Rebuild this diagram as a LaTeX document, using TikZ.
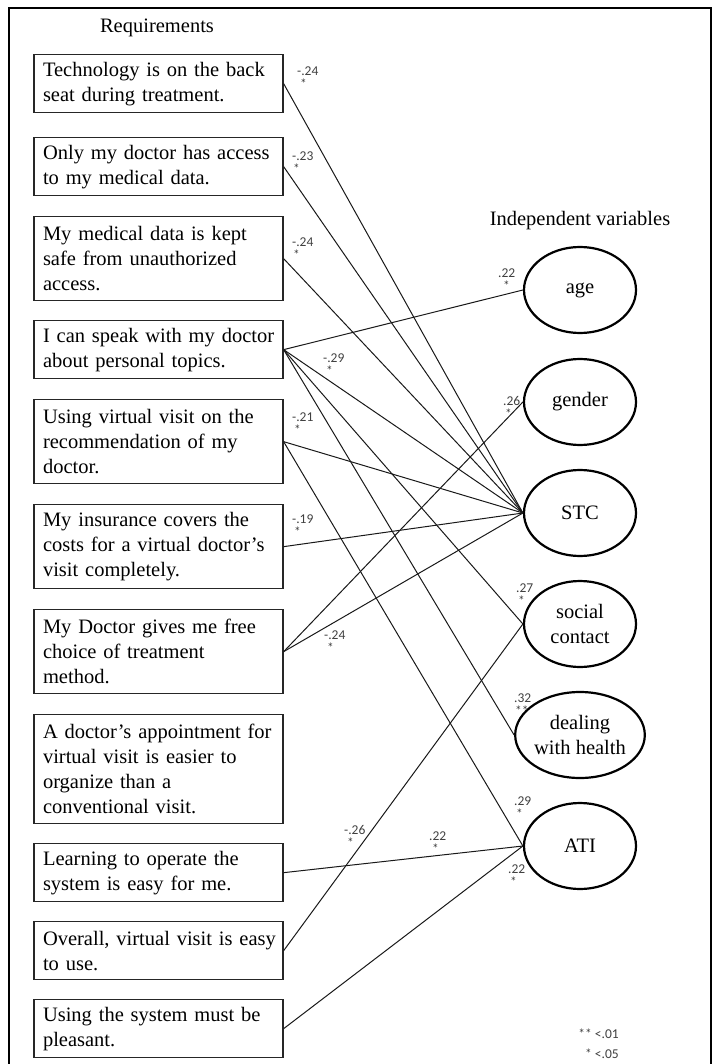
\documentclass[tikz,border=0pt]{standalone}
\usepackage{fontspec}
\setmainfont{Liberation Serif}
\newfontfamily\labfont{Carlito}
\usetikzlibrary{shapes.geometric}
\begin{document}
\begin{tikzpicture}[x=1pt,y=-1pt,
  reqbox/.style={draw=black!85, line width=1.3pt, minimum width=249pt, text width=231pt, align=left, inner xsep=9pt, inner ysep=0pt, font=\fontsize{20.5}{25}\selectfont, anchor=north},
  two/.style={reqbox, minimum height=58pt},
  three/.style={reqbox, minimum height=84pt},
  four/.style={reqbox, minimum height=109pt},
  var/.style={ellipse, draw, line width=2.2pt, minimum width=112pt, minimum height=86pt, inner sep=0pt, align=center, font=\fontsize{20.5}{25}\selectfont},
  conn/.style={line width=1pt, black!90},
  coef/.style={font=\labfont\fontsize{13.5}{13}\selectfont, text=black!75, align=left, inner sep=0pt, anchor=north west},
  heading/.style={font=\fontsize{20.5}{25}\selectfont, inner sep=0pt}
]
\useasboundingbox (0,0) rectangle (713,1064);
\draw[line width=2pt] (9,1064) -- (9,8) -- (711,8) -- (711,1064);

\node[heading] (treq) at (157,28) {Requirements};
\node[heading] (tind) at (580,221) {Independent variables};

\node[two]   (r1)  at (158.5,54)  {\mbox{Technology is on the back}\\\mbox{seat during treatment.}};
\node[two]   (r2)  at (158.5,137) {\mbox{Only my doctor has access}\\\mbox{to my medical data.}};
\node[three] (r3)  at (158.5,216) {\mbox{My medical data is kept}\\\mbox{safe from unauthorized}\\\mbox{access.}};
\node[two]   (r4)  at (158.5,320) {\mbox{I can speak with my doctor}\\\mbox{about personal topics.}};
\node[three] (r5)  at (158.5,399) {\mbox{Using virtual visit on the}\\\mbox{recommendation of my}\\\mbox{doctor.}};
\node[three] (r6)  at (158.5,504) {\mbox{My insurance covers the}\\\mbox{costs for a virtual doctor's}\\\mbox{visit completely.}};
\node[three] (r7)  at (158.5,609) {\mbox{My Doctor gives me free}\\\mbox{choice of treatment}\\\mbox{method.}};
\node[four]  (r8)  at (158.5,714) {\mbox{A doctor's appointment for}\\\mbox{virtual visit is easier to}\\\mbox{organize than a}\\\mbox{conventional visit.}};
\node[two]   (r9)  at (158.5,843) {\mbox{Learning to operate the}\\\mbox{system is easy for me.}};
\node[two]   (r10) at (158.5,921) {\mbox{Overall, virtual visit is easy}\\\mbox{to use.}};
\node[two]   (r11) at (158.5,999) {\mbox{Using the system must be}\\\mbox{pleasant.}};

\node[var] (age)  at (580,290) {age};
\node[var] (gen)  at (580,402) {gender};
\node[var] (stc)  at (580,513) {STC};
\node[var] (soc)  at (580,624) {social\\contact};
\node[var] (deal) at (580,735) {dealing\\with health};
\node[var] (ati)  at (580,846) {ATI};

\draw[conn] (r1.east) -- (stc.west);
\draw[conn] (r2.east) -- (stc.west);
\draw[conn] (r3.east) -- (stc.west);
\draw[conn] (r4.east) -- (age.west);
\draw[conn] (r4.east) -- (stc.west);
\draw[conn] (r4.east) -- (soc.west);
\draw[conn] (r4.east) -- (deal.west);
\draw[conn] (r5.east) -- (stc.west);
\draw[conn] (r5.east) -- (ati.west);
\draw[conn] (r6.east) -- (stc.west);
\draw[conn] (r7.east) -- (gen.west);
\draw[conn] (r7.east) -- (stc.west);
\draw[conn] (r9.east) -- (ati.west);
\draw[conn] (r10.east) -- (soc.west);
\draw[conn] (r11.east) -- (ati.west);

\node[coef] (c1)  at (297,66.5)  {-.24\\\hspace{3pt}*};
\node[coef] (c2)  at (292,151.5) {-.23\\\hspace{1pt}*};
\node[coef] (c3)  at (292,237.5) {-.24\\\hspace{1pt}*};
\node[coef] (c4)  at (323,353.5) {-.29\\\hspace{3pt}*};
\node[coef] (c5)  at (498,268.5) {.22\\\hspace{5pt}*};
\node[coef] (c6)  at (503,396.5) {.26\\\hspace{2pt}*};
\node[coef] (c7)  at (292,412.5) {-.21\\\hspace{2pt}*};
\node[coef] (c8)  at (292,514.5) {-.19\\\hspace{2pt}*};
\node[coef] (c9)  at (324,630.5) {-.24\\\hspace{3pt}*};
\node[coef] (c10) at (516,583.5) {.27\\\hspace{2pt}*};
\node[coef] (c11) at (514,693.5) {.32\\\hspace{1pt}**};
\node[coef] (c12) at (514,796.5) {.29\\\hspace{2pt}*};
\node[coef] (c13) at (344,825.5) {-.26\\\hspace{3pt}*};
\node[coef] (c14) at (429,831.5) {.22\\\hspace{3pt}*};
\node[coef] (c15) at (508,864.5) {.22\\\hspace{2pt}*};

\node[coef, anchor=north east, align=right, font=\labfont\fontsize{13.5}{20}\selectfont] (leg) at (619,1028.5) {** <.01\\* <.05};
\end{tikzpicture}
\end{document}
